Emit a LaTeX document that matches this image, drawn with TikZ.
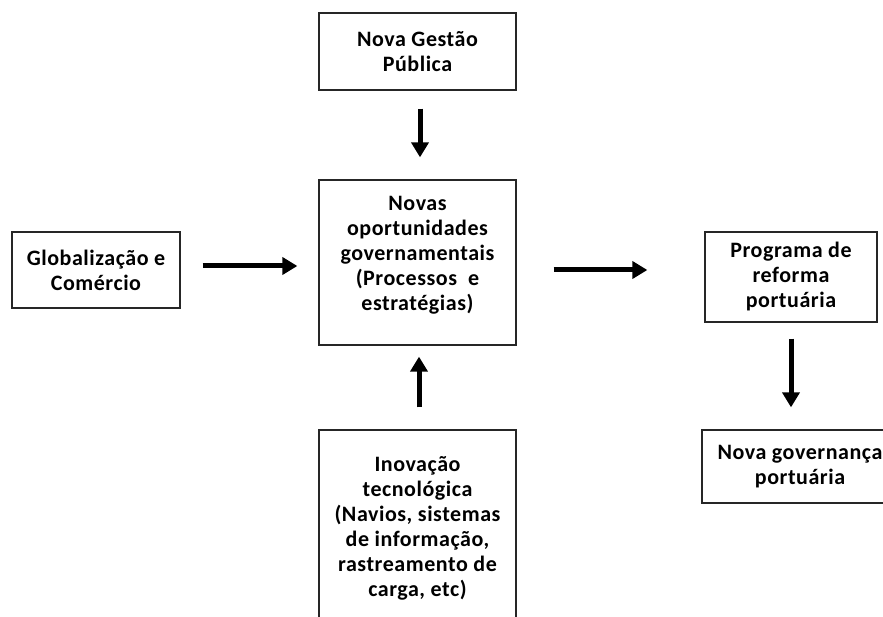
\documentclass[tikz,border=0pt]{standalone}
\usepackage{fontspec}
\setmainfont{Carlito}[LetterSpace=2.5]
\usetikzlibrary{arrows.meta}
\begin{document}
\begin{tikzpicture}[x=1pt,y=-1pt,
  box/.style={draw=black!85,line width=1.3pt,inner sep=0pt,align=center,
    font=\fontsize{22}{25}\selectfont\bfseries},
  txt/.style={inner sep=0pt,align=center,font=\fontsize{22}{25}\selectfont\bfseries},
  arr/.style={line width=5pt,-{Triangle[length=15pt,width=17pt]}}]
\useasboundingbox (0,0) rectangle (883,617);
\clip (0,0) rectangle (883,617);

% boxes
\node[box,minimum width=197,minimum height=77] (ngp) at (417.5,51.5) {Nova Gestão\\Pública};
\node[box,minimum width=197,minimum height=165] (nog) at (417.5,262.5) {};
\node[txt] (nogt) at (417.5,255) {Novas\\oportunidades\\governamentais\\(Processos\ \ e\\estratégias)};
\node[box,minimum width=168,minimum height=76] (glob) at (96,270) {Globalização e\\Comércio};
\node[box,minimum width=172,minimum height=90] (prog) at (791,277) {Programa de\\reforma\\portuária};
\node[box,minimum width=196,minimum height=73] (ngov) at (800,466.5) {Nova governança\\portuária};
\node[box,minimum width=197,minimum height=220] (ino) at (417.5,540) {};
\node[txt] (inot) at (417.5,528) {Inovação\\tecnológica\\(Navios, sistemas\\de informação,\\rastreamento de\\carga, etc)};

% connectors
\draw[arr,shorten <=18pt,shorten >=22pt] ([xshift=2.5pt]ngp.south) -- ([xshift=2.5pt]nog.north);
\draw[arr,shorten <=22pt,shorten >=21pt] ([yshift=4pt]glob.east) -- ([yshift=4pt]glob.east -| nog.west);
\draw[arr,shorten <=37pt,shorten >=57pt] ([yshift=-7.5pt]nog.east) -- ([yshift=-7.5pt]nog.east -| prog.west);
\draw[arr,shorten <=22pt,shorten >=11pt] ([xshift=1.5pt]ino.north) -- ([xshift=1.5pt]nog.south);
\draw[arr,shorten <=16pt,shorten >=22pt] (prog.south) -- (prog.south |- ngov.north);
\end{tikzpicture}
\end{document}
